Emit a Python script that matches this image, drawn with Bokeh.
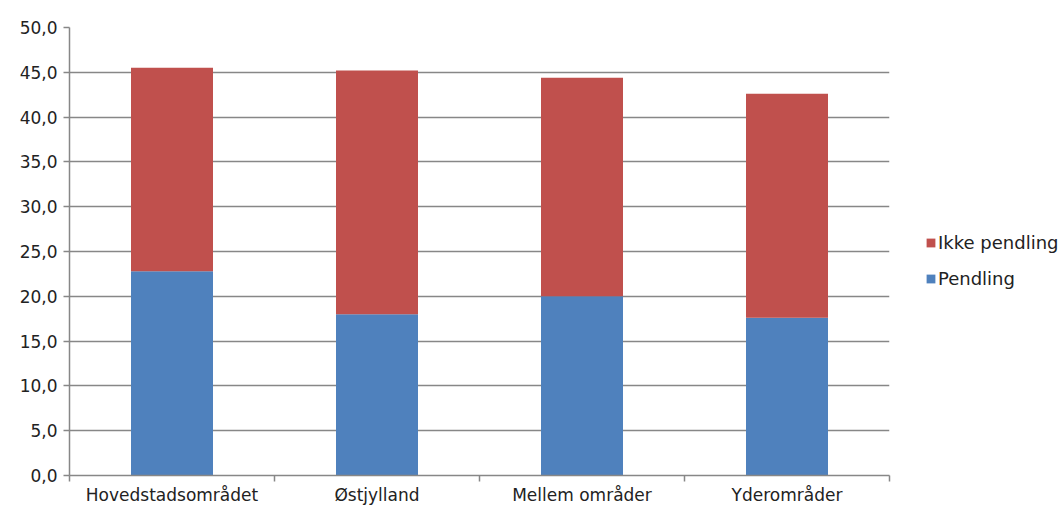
from bokeh.plotting import figure
from bokeh.models import FixedTicker, Legend, LegendItem, ColumnDataSource, Range1d
from bokeh.embed import file_html
from bokeh.resources import INLINE

categories = ["Hovedstadsområdet", "Østjylland", "Mellem områder", "Yderområder"]
pendling = [22.8, 18.0, 20.0, 17.6]
ikke_pendling = [22.7, 27.2, 24.4, 25.0]
y_ticks = [0, 5, 10, 15, 20, 25, 30, 35, 40, 45, 50]

FONT = "DejaVu Sans"
BLUE = "#4F81BD"
RED = "#C0504D"
GRID = "#878787"

x = [i + 0.5 for i in range(len(categories))]
top_i = [a + b for a, b in zip(pendling, ikke_pendling)]
src = ColumnDataSource(dict(x=x, p=pendling, bottom_i=pendling, top_i=top_i))

p = figure(frame_width=820, frame_height=448, output_backend="svg", toolbar_location=None,
           x_range=Range1d(0, len(categories)), y_range=Range1d(0, 50),
           min_border_left=69, min_border_right=173, min_border_top=27, min_border_bottom=32)
p.outline_line_color = None
p.background_fill_color = "white"
p.border_fill_color = "white"

r_p = p.vbar(x="x", bottom=0, top="p", width=0.4, source=src, fill_color=BLUE, line_color=None)
r_i = p.vbar(x="x", bottom="bottom_i", top="top_i", width=0.4, source=src, fill_color=RED, line_color=None)

p.xgrid.grid_line_color = None
p.ygrid.grid_line_color = GRID
p.ygrid.grid_line_width = 1.5
p.ygrid.ticker = FixedTicker(ticks=y_ticks)

p.yaxis.ticker = FixedTicker(ticks=y_ticks)
p.yaxis.major_label_overrides = {t: f"{t:.1f}".replace(".", ",") for t in y_ticks}
p.yaxis.axis_line_color = GRID
p.yaxis.axis_line_width = 1.5
p.yaxis.major_tick_line_color = GRID
p.yaxis.major_tick_line_width = 1.5
p.yaxis.major_tick_out = 6
p.yaxis.major_tick_in = 0
p.yaxis.minor_tick_line_color = None
p.yaxis.major_label_text_font = FONT
p.yaxis.major_label_text_font_size = "17px"
p.yaxis.major_label_text_color = "#222222"
p.yaxis.major_label_standoff = 6

p.xaxis.ticker = FixedTicker(ticks=x, minor_ticks=list(range(len(categories) + 1)))
p.xaxis.major_label_overrides = {xi: c for xi, c in zip(x, categories)}
p.xaxis.axis_line_color = GRID
p.xaxis.axis_line_width = 1.5
p.xaxis.major_tick_line_color = None
p.xaxis.minor_tick_line_color = GRID
p.xaxis.minor_tick_line_width = 1.5
p.xaxis.minor_tick_out = 6
p.xaxis.minor_tick_in = 0
p.xaxis.major_label_text_font = FONT
p.xaxis.major_label_text_font_size = "17px"
p.xaxis.major_label_text_color = "#222222"
p.xaxis.major_label_standoff = 3

legend = Legend(items=[LegendItem(label="Ikke pendling", renderers=[r_i]),
                       LegendItem(label="Pendling", renderers=[r_p])],
                location="left", orientation="vertical", title=" ")
legend.title_text_font_size = "12px"
legend.title_standoff = 5
legend.border_line_color = None
legend.background_fill_alpha = 0
legend.label_text_font = FONT
legend.label_text_font_size = "18px"
legend.label_text_color = "#222222"
legend.glyph_width = 11
legend.glyph_height = 11
legend.label_standoff = 2
legend.spacing = 15
legend.padding = 0
legend.margin = 36
p.add_layout(legend, "right")

open("out.html", "w").write(file_html(p, INLINE))
